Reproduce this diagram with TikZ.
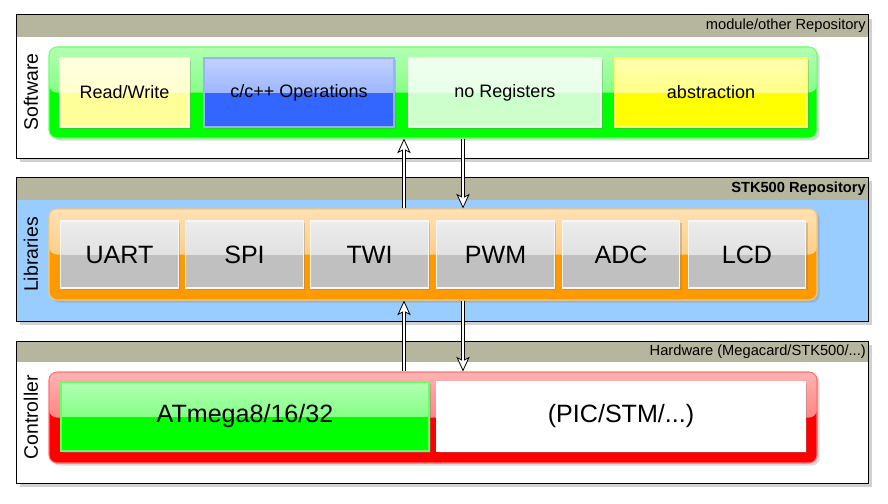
\documentclass[tikz,border=0pt]{standalone}
\usepackage{fontspec}
\setmainfont{Liberation Sans}
\usetikzlibrary{arrows.meta,shadows}

\definecolor{hdrtan}{RGB}{182,181,158}
\definecolor{libblue}{RGB}{153,204,255}
\definecolor{pgreen}{RGB}{0,255,0}
\definecolor{porange}{RGB}{255,153,0}
\definecolor{pred}{RGB}{255,0,0}
\definecolor{pyellow}{RGB}{255,255,0}
\definecolor{pblue}{RGB}{51,102,255}
\definecolor{pgray}{RGB}{192,192,192}
\definecolor{pcream}{RGB}{255,255,153}
\definecolor{pmint}{RGB}{204,255,204}

\tikzset{
  glass/.style={fill=#1, path picture={
      \shade[top color=white!70!#1, bottom color=white!35!#1]
        (path picture bounding box.north west) rectangle (path picture bounding box.east);}},
  container/.style={glass=#1, draw=white!45!#1, line width=0.8pt, rounded corners=6pt,
    minimum width=576pt, minimum height=68.25pt, inner sep=0pt,
    drop shadow={shadow xshift=2pt, shadow yshift=-2pt, opacity=0.3}},
  item/.style={glass=#1, draw=white!60!#1, line width=0.8pt, inner sep=0pt,
    minimum height=51.75pt, font=\fontsize{13.5}{16}\selectfont,
    drop shadow={shadow xshift=1.5pt, shadow yshift=-1.5pt, opacity=0.35}},
  libitem/.style={item=pgray, minimum width=88pt, minimum height=50.25pt,
    draw=white!85!pgray, font=\fontsize{18.8}{22}\selectfont},
  ctlitem/.style={item=#1, minimum width=276pt, font=\fontsize{18.8}{22}\selectfont},
  hdrtext/.style={anchor=east, inner sep=0pt, font=\fontsize{11}{13}\selectfont},
  sidetext/.style={rotate=90, inner sep=0pt, font=\fontsize{14.6}{17}\selectfont},
  % hollow arrow: black outer stroke with tip, white inner stroke on top
  dblarrow/.style={
    preaction={draw=black, line width=3.2pt, shorten <=0pt, shorten >=0pt,
      -{Stealth[open, fill=white, line width=0.6pt, width=10pt, length=11pt, inset=2.6pt]}},
    draw=white, line width=2pt, shorten <=0.6pt, shorten >=7.6pt},
}

\begin{document}
\begin{tikzpicture}[x=0.75pt,y=-0.75pt]
  \useasboundingbox (0,0) rectangle (888,503);

  % panels
  \fill[black!18] (20,19) rectangle (872,162);
  \draw[line width=0.75pt, fill=white] (16,15) rectangle (868,158);
  \fill[hdrtan] (16.5,15.5) rectangle (867.5,37);

  \fill[black!18] (20,181) rectangle (872,325);
  \draw[line width=0.75pt, fill=libblue] (16,177) rectangle (868,321);
  \fill[hdrtan] (16.5,177.5) rectangle (867.5,200);

  \fill[black!18] (20,345) rectangle (872,487);
  \draw[line width=0.75pt, fill=white] (16,341) rectangle (868,483);
  \fill[hdrtan] (16.5,341.5) rectangle (867.5,362);

  \node[hdrtext] (swrepo) at (866,26) {module/other Repository};
  \node[hdrtext, font=\fontsize{11}{13}\selectfont\bfseries] (librepo) at (866,189) {STK500 Repository};
  \node[hdrtext] (hwrepo) at (866,352) {Hardware (Megacard/STK500/...)};

  \node[sidetext] (swlabel) at (31,92) {Software};
  \node[sidetext] (liblabel) at (31,254.5) {Libraries};
  \node[sidetext] (ctllabel) at (31,417.5) {Controller};

  % software layer
  \node[container=pgreen] (sw) at (433,92.5) {};
  \node[item=pcream, minimum width=96.75pt] (rw) at (124.5,92.5) {Read/Write};
  \node[item=pblue, minimum width=142.5pt, draw=white!50!pblue] (cops) at (299,92.5) {c/c++ Operations};
  \node[item=pmint, minimum width=144pt] (noreg) at (505,92.5) {no Registers};
  \node[item=pyellow, minimum width=144pt, draw=white!40!pyellow] (abstr) at (711,92.5) {abstraction};

  % library layer
  \node[container=porange] (lib) at (433,254.5) {};
  \node[libitem] (uart) at (119.5,254.5) {UART};
  \node[libitem] (spi) at (244.5,254.5) {SPI};
  \node[libitem] (twi) at (369.5,254.5) {TWI};
  \node[libitem] (pwm) at (495.5,254.5) {PWM};
  \node[libitem] (adc) at (621,254.5) {ADC};
  \node[libitem] (lcd) at (747,254.5) {LCD};

  % controller layer
  \node[container=pred] (ctl) at (433,417.5) {};
  \node[ctlitem=pgreen, draw=white!40!pgreen] (atmega) at (245,416.5) {ATmega8/16/32};
  \node[ctlitem=white, draw=white] (pic) at (621,416.5) {(PIC/STM/...)};

  % arrows
  \coordinate (upx) at (404,0);
  \coordinate (downx) at (463,0);
  \draw[dblarrow] (lib.north -| upx) -- (sw.south -| upx);
  \draw[dblarrow] (sw.south -| downx) -- (lib.north -| downx);
  \draw[dblarrow] (ctl.north -| upx) -- (lib.south -| upx);
  \draw[dblarrow] (lib.south -| downx) -- (ctl.north -| downx);
\end{tikzpicture}
\end{document}
